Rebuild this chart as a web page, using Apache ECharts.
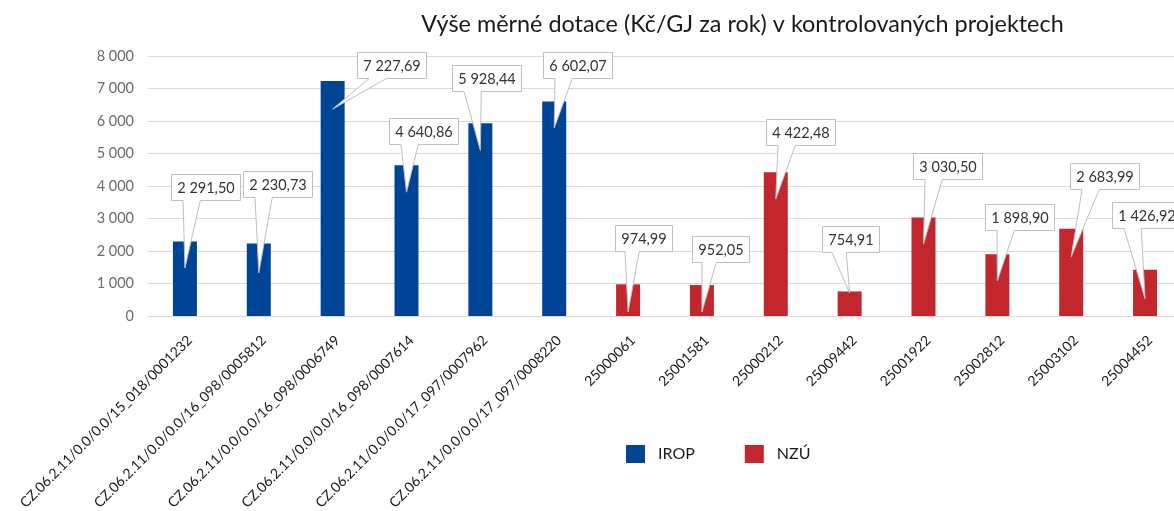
<!DOCTYPE html>
<html>
<head>
<meta charset="utf-8">
<script src="https://cdn.jsdelivr.net/npm/echarts@6/dist/echarts.min.js"></script>
<style>
  html, body { margin: 0; padding: 0; background: #fff; }
  #chart { width: 1174px; height: 511px; }
</style>
</head>
<body>
<div id="chart"></div>
<script>
const titleText = 'Výše měrné dotace (Kč/GJ za rok) v kontrolovaných projektech';
const categories = [
  'CZ.06.2.11/0.0/0.0/15_018/0001232',
  'CZ.06.2.11/0.0/0.0/16_098/0005812',
  'CZ.06.2.11/0.0/0.0/16_098/0006749',
  'CZ.06.2.11/0.0/0.0/16_098/0007614',
  'CZ.06.2.11/0.0/0.0/17_097/0007962',
  'CZ.06.2.11/0.0/0.0/17_097/0008220',
  '25000061', '25001581', '25000212', '25009442',
  '25001922', '25002812', '25003102', '25004452'
];
const seriesNames = ['IROP', 'NZÚ'];
const iropValues = [2291.50, 2230.73, 7227.69, 4640.86, 5928.44, 6602.07];
const nzuValues = [974.99, 952.05, 4422.48, 754.91, 3030.50, 1898.90, 2683.99, 1426.92];
const yMin = 0, yMax = 8000, yInterval = 1000;

// callout layout (pixels relative to bar top centre): [boxDx, boxDy, tipDy]
const calloutLayout = [
  [21, -54.5, 26.5], [18.6, -59.5, 29.5], [59, -16.6, 28], [17, -33.7, 27],
  [6, -45.8, 27], [23, -36.4, 26.6], [15.4, -46.3, 27.7], [19, -36.5, 27],
  [25, -40.3, 26.7], [1, -52.5, 1.5], [24, -52, 26.5], [22.6, -36.8, 26.7],
  [33, -52.8, 28], [1, -55, 29]
];

const BLUE = '#004595', RED = '#C1272D';
const FONT = 'Lato, Carlito, Calibri, sans-serif';

function fmtNum(v, dec) {
  const s = v.toFixed(dec);
  const parts = s.split('.');
  const intPart = parts[0].replace(/\B(?=(\d{3})+(?!\d))/g, ' ');
  return parts.length > 1 ? intPart + ',' + parts[1] : intPart;
}

const nIrop = iropValues.length;
const allValues = iropValues.concat(nzuValues);
const iropData = categories.map((c, i) => i < nIrop ? iropValues[i] : '-');
const nzuData = categories.map((c, i) => i >= nIrop ? nzuValues[i - nIrop] : '-');
const calloutData = allValues.map((v, i) => [i, v]);

const CALLOUT_FONT_SIZE = 14.5;
const measureCtx = document.createElement('canvas').getContext('2d');
measureCtx.font = CALLOUT_FONT_SIZE + 'px ' + FONT;

function renderCallout(params, api) {
  const idx = api.value(0);
  const v = api.value(1);
  const p = api.coord([idx, v]);
  const lay = calloutLayout[idx];
  const text = fmtNum(v, 2);
  const tw = measureCtx.measureText(text).width;
  const w = Math.round(tw + 12);
  const h = 26;
  const cx = p[0] + lay[0], cy = p[1] + lay[1];
  const x0 = Math.round(cx - w / 2) + 0.5, y0 = Math.round(cy - h / 2) + 0.5;
  const x1 = x0 + w, y1 = y0 + h;
  const tipX = p[0], tipY = p[1] + lay[2];
  let b1, b2;
  if (tipX < cx) { b1 = x0 + w / 6; b2 = x0 + 5 * w / 12; }
  else { b1 = x0 + 7 * w / 12; b2 = x0 + 5 * w / 6; }
  const points = [[x0, y0], [x1, y0], [x1, y1], [b2, y1], [tipX, tipY], [b1, y1], [x0, y1]];
  return {
    type: 'group',
    children: [
      { type: 'polygon', shape: { points: points },
        style: { fill: '#ffffff', stroke: '#bfbfbf', lineWidth: 1 } },
      { type: 'text',
        style: { text: text, x: (x0 + x1) / 2, y: (y0 + y1) / 2 + 0.5, align: 'center', verticalAlign: 'middle',
                 fontSize: CALLOUT_FONT_SIZE, fontFamily: FONT, fill: '#333333' } }
    ]
  };
}

const chart = echarts.init(document.getElementById('chart'), null, { renderer: 'canvas' });
chart.setOption({
  animation: false,
  backgroundColor: '#ffffff',
  title: {
    text: titleText,
    left: 737.5, top: 8, textAlign: 'center',
    textStyle: { fontFamily: FONT, fontSize: 23.4, fontWeight: 'normal', color: '#1a1a1a' }
  },
  legend: {
    data: seriesNames,
    left: 621, top: 440,
    itemWidth: 19, itemHeight: 18, itemGap: 50,
    icon: 'rect',
    textStyle: { fontFamily: FONT, fontSize: 16, color: '#1a1a1a', padding: [0, 0, 0, 8] }
  },
  grid: { left: 148, width: 1034, top: 56, height: 260, containLabel: false, outerBoundsMode: 'none' },
  xAxis: {
    type: 'category',
    data: categories,
    axisLine: { lineStyle: { color: '#d9d9d9', width: 1 } },
    axisTick: { show: false },
    axisLabel: { rotate: 45, margin: 17, interval: 0, verticalAlign: 'top', align: 'right',
                 fontFamily: FONT, fontSize: 14, color: '#1a1a1a' }
  },
  yAxis: {
    type: 'value',
    min: yMin, max: yMax, interval: yInterval,
    axisLine: { show: false },
    axisTick: { show: false },
    splitLine: { lineStyle: { color: '#d9d9d9', width: 1 } },
    axisLabel: { margin: 14, fontFamily: FONT, fontSize: 14.5, color: '#6b6b6b', formatter: v => fmtNum(v, 0) }
  },
  series: [
    { name: seriesNames[0], type: 'bar', stack: 'a', data: iropData, barWidth: 24,
      itemStyle: { color: BLUE } },
    { name: seriesNames[1], type: 'bar', stack: 'a', data: nzuData, barWidth: 24,
      itemStyle: { color: RED } },
    { name: 'callouts', type: 'custom', data: calloutData, renderItem: renderCallout,
      encode: { x: 0, y: 1 }, z: 5, silent: true }
  ]
});
</script>
</body>
</html>
